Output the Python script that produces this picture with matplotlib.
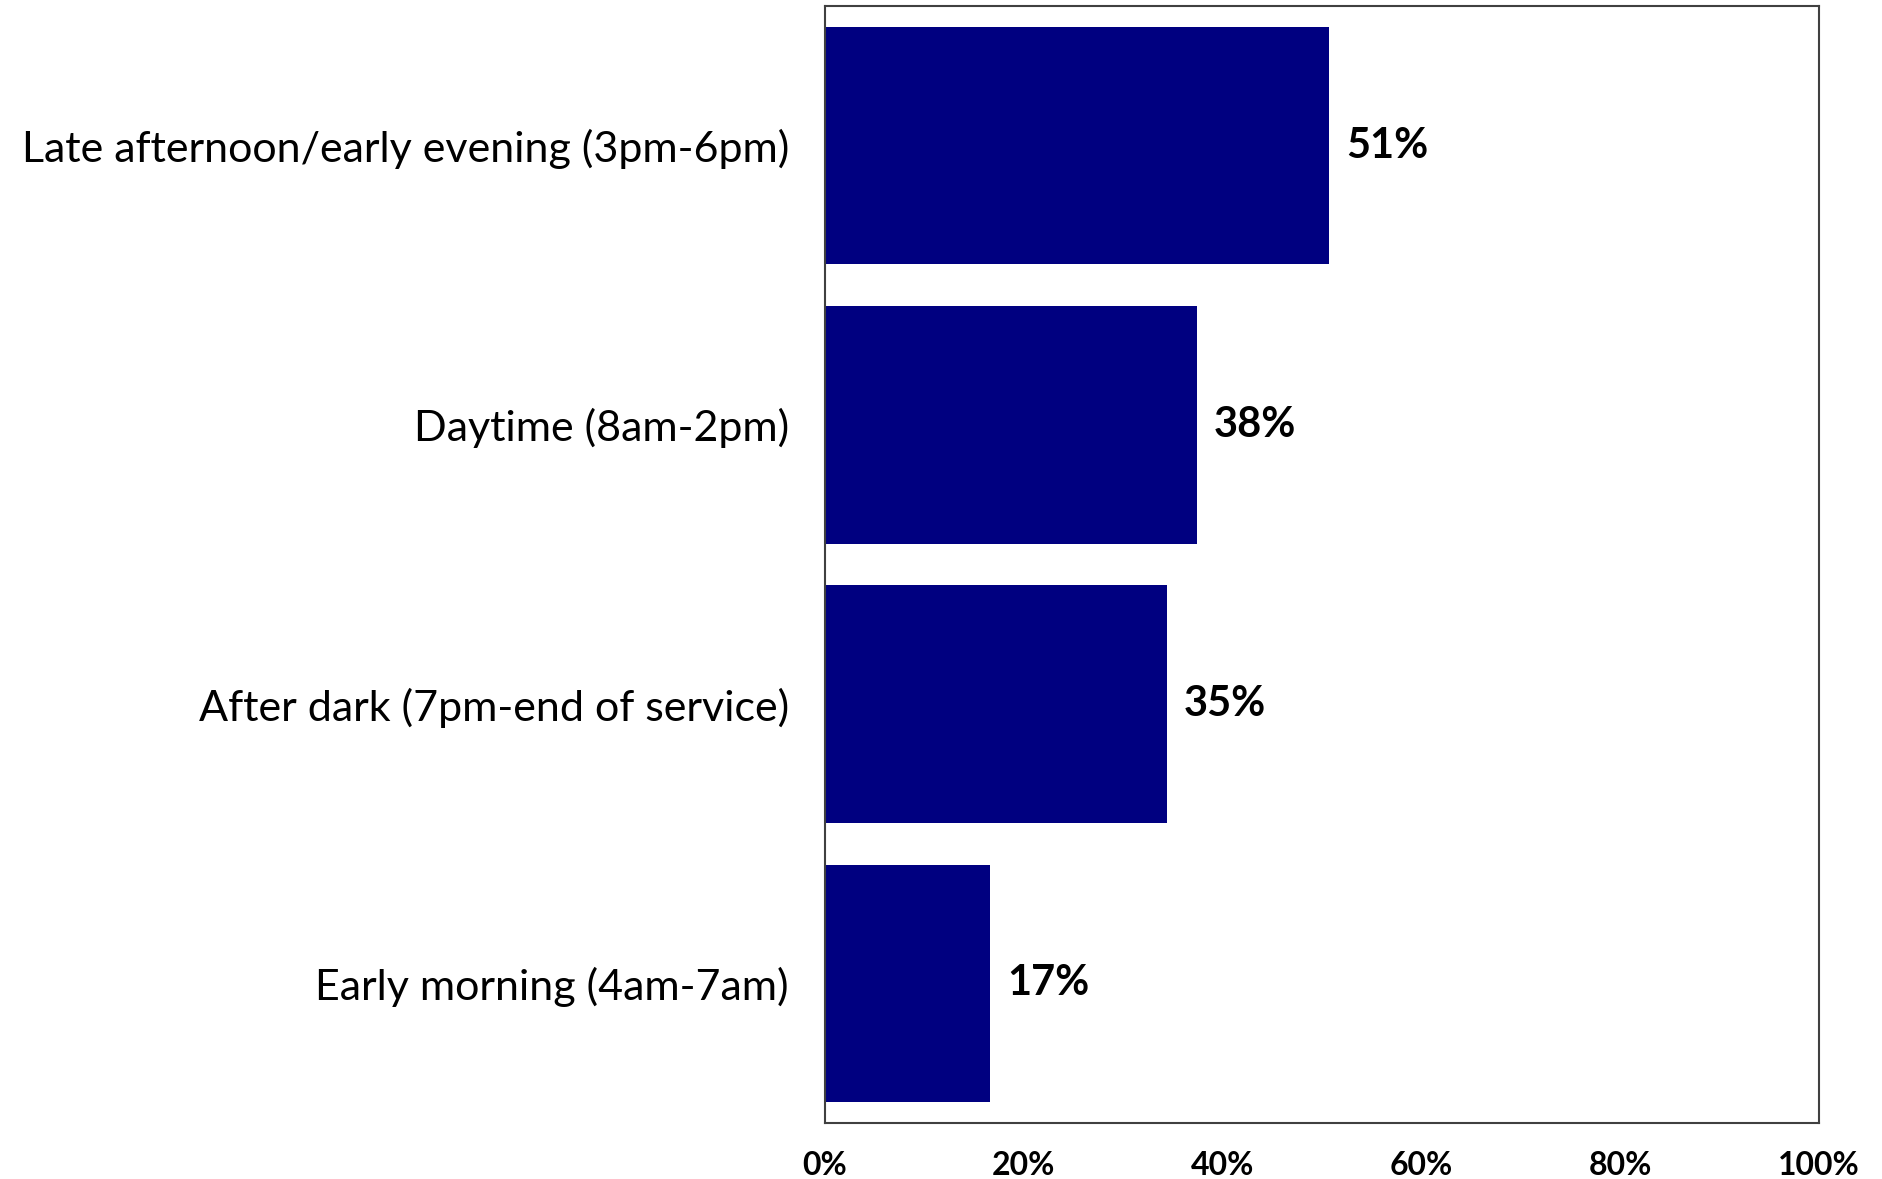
import matplotlib
matplotlib.use("Agg")
import matplotlib.pyplot as plt
from matplotlib.ticker import FuncFormatter

categories = ["Late afternoon/early evening (3pm-6pm)", "Daytime (8am-2pm)",
              "After dark (7pm-end of service)", "Early morning (4am-7am)"]
values = [50.7, 37.4, 34.4, 16.6]
value_labels = ["51%", "38%", "35%", "17%"]
xticks = [0, 20, 40, 60, 80, 100]

plt.rcParams['font.family'] = ['Lato', 'DejaVu Sans']

fig = plt.figure(figsize=(18.83, 11.79), dpi=100)
ax = fig.add_axes([825/1883, 1 - 1123/1179, (1819-825)/1883, (1123-6)/1179])

ypos = list(range(len(categories)))
ax.barh(ypos, values, height=0.85, color='#000080')
ax.set_ylim(len(categories) - 0.5, -0.5)
ax.set_xlim(0, 100)
ax.set_yticks(ypos)
ax.set_yticklabels(categories, fontsize=31)
ax.set_xticks(xticks)
ax.xaxis.set_major_formatter(FuncFormatter(lambda v, p: f"{v:.0f}%"))
for lbl in ax.get_xticklabels():
    lbl.set_fontweight('bold')
    lbl.set_fontsize(23)
ax.tick_params(axis='x', length=0, pad=20)
ax.tick_params(axis='y', length=0, pad=26)
for s in ax.spines.values():
    s.set_color('#404040')
    s.set_linewidth(1.5)

for y, v, t in zip(ypos, values, value_labels):
    ax.text(v + 1.7, y, t, va='center', ha='left', fontsize=30, fontweight='bold')

fig.savefig("out.png", dpi=100)
